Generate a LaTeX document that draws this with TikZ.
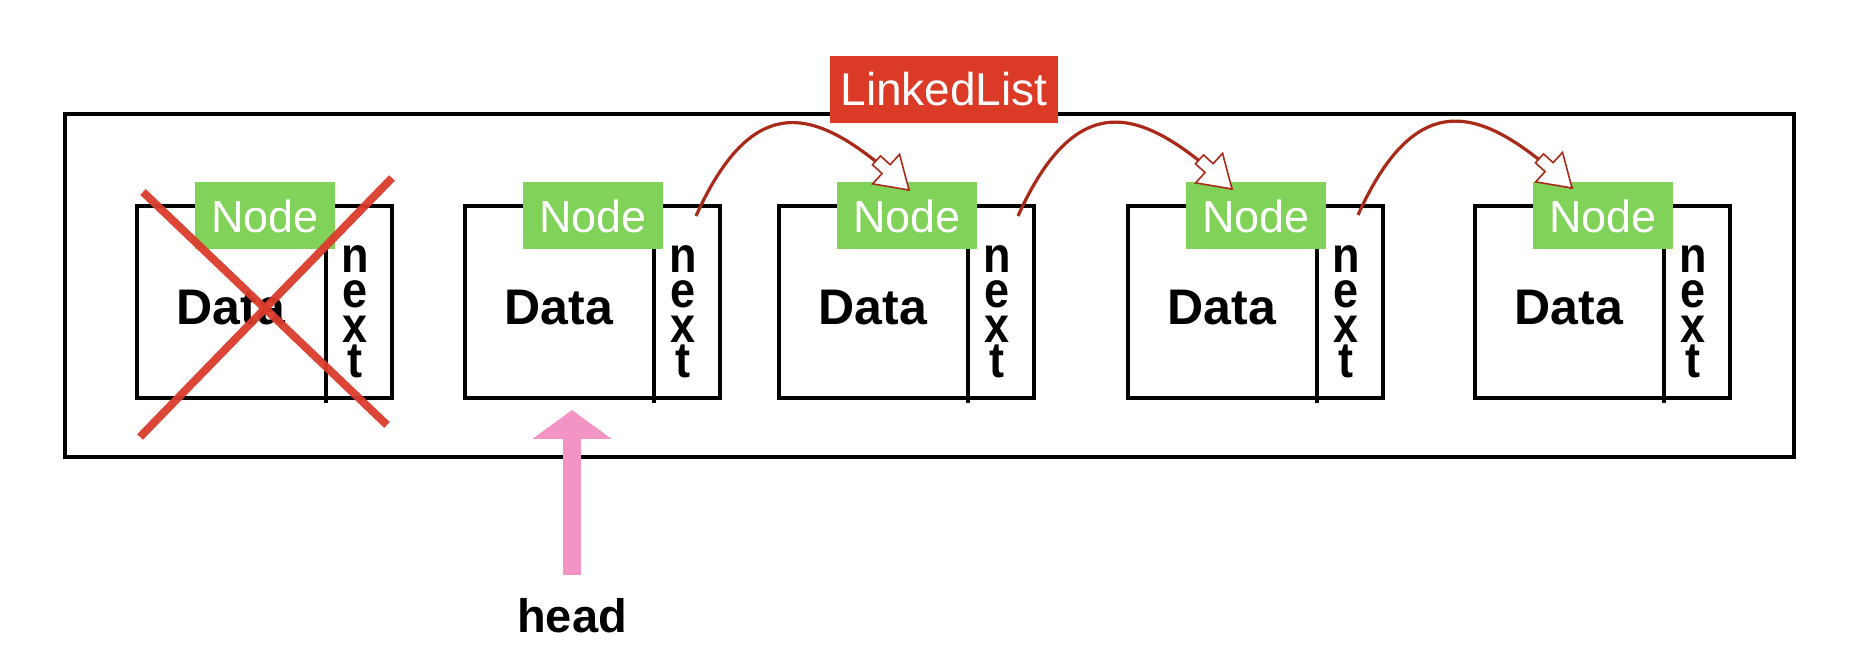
\documentclass[tikz,border=0pt]{standalone}
\usepackage{fontspec}
\setmainfont{Liberation Sans}
\newfontfamily\nextfont[FakeStretch=0.9]{Liberation Sans}
\usetikzlibrary{arrows.meta,decorations.markings,calc}
\definecolor{nodegreen}{HTML}{81D259}
\definecolor{titlered}{HTML}{DB3A27}
\definecolor{linkred}{HTML}{AA2A1A}
\definecolor{headpink}{HTML}{F294C4}
\definecolor{xred}{HTML}{DA3C2B}
\begin{document}
\begin{tikzpicture}[x=0.5pt,y=-0.5pt,
  outerbox/.style={draw=black, line width=1.8pt, minimum width=864.5pt, minimum height=171.5pt, inner sep=0pt},
  cellbox/.style={draw=black, line width=1.6pt, minimum width=127.5pt, minimum height=96pt, inner sep=0pt},
  cellline/.style={draw=black, line width=1.6pt},
  nodelabel/.style={fill=nodegreen, text=white, minimum width=70pt, minimum height=33.5pt, inner sep=0pt, font=\fontsize{22.5pt}{22.5pt}\selectfont},
  titlelabel/.style={fill=titlered, text=white, minimum width=114pt, minimum height=33.5pt, inner sep=0pt, font=\fontsize{23pt}{23pt}\selectfont},
  datatext/.style={inner sep=0pt, font=\fontsize{25pt}{25pt}\selectfont\bfseries},
  nexttext/.style={inner sep=0pt, align=center, font=\nextfont\fontsize{25pt}{17.5pt}\selectfont\bfseries},
  headtext/.style={inner sep=0pt, font=\fontsize{23.5pt}{23.5pt}\selectfont\bfseries},
  link/.style={draw=linkred, line width=1.6pt, postaction={decorate},
    decoration={markings, mark=at position 1 with {\draw[draw=linkred, line width=0.8pt, fill=white, line join=miter] (0,0) -- (-31,20) -- (-31,6) -- (-44,6) -- (-44,-6) -- (-31,-6) -- (-31,-20) -- cycle;}}},
  headarrow/.style={draw=headpink, line width=9pt, -{Triangle[length=14.5pt,width=39pt]}},
  cross/.style={draw=xred, line width=4pt, opacity=0.95}
]
\useasboundingbox (0,0) rectangle (1876,672);
% outer list box
\node[outerbox] (list) at (929.5,285.5) {};
% cells
\foreach \i/\l in {1/137,2/465,3/779,4/1128,5/1475}{
  \node[cellbox] (box\i) at (\l+127.5,302) {};
  \draw[cellline] (\l+189,206) -- (\l+189,403);
  \node[nodelabel] (lab\i) at (\l+128,216) {Node};
  \node[datatext, anchor=base] (data\i) at (\l+94,325) {Data};
  \node[nexttext, anchor=north] (next\i) at (\l+218,245.5) {n\\e\\x\\t};
}
% title
\node[titlelabel] (title) at (944,89.5) {LinkedList};
% links
\coordinate (s2) at (696,216); \coordinate (t3) at (909,190);
\coordinate (s3) at (1018,216); \coordinate (t4) at (1232,189);
\coordinate (s4) at (1358,215); \coordinate (t5) at (1572,188);
\draw[link] (s2) .. controls ($(s2)+(64,-142)$) and ($(t3)+(-79,-72)$) .. (t3);
\draw[link] (s3) .. controls ($(s3)+(64,-142)$) and ($(t4)+(-79,-72)$) .. (t4);
\draw[link] (s4) .. controls ($(s4)+(64,-142)$) and ($(t5)+(-79,-72)$) .. (t5);
% head pointer
\node[headtext, anchor=base] (head) at (572,633) {head};
\coordinate (headtail) at (572,575);
\coordinate (headtip) at (572,410);
\draw[headarrow] (headtail) -- (headtip);
% removed first cell
\coordinate (xa1) at (143,192); \coordinate (xa2) at (387,425);
\coordinate (xb1) at (140,437); \coordinate (xb2) at (392,178);
\draw[cross] (xa1) -- (xa2);
\draw[cross] (xb1) -- (xb2);
\end{tikzpicture}
\end{document}
